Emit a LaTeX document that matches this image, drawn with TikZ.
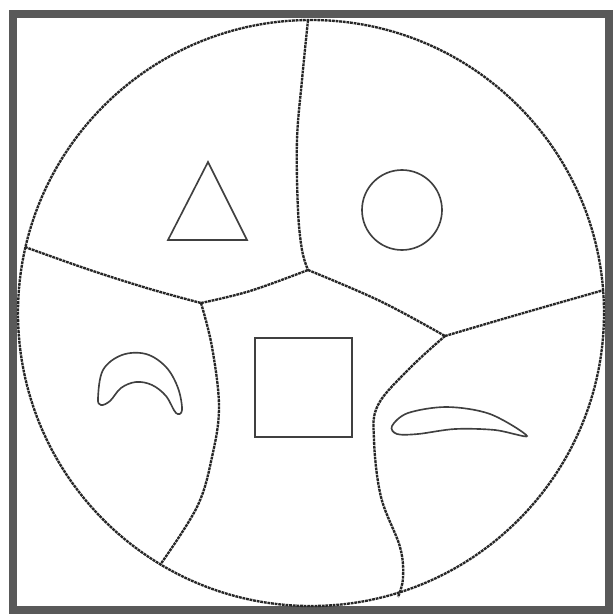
\documentclass[tikz,border=0pt]{standalone}
\usepackage{tikz}
\usetikzlibrary{calc}

\begin{document}
\begin{tikzpicture}[
        x=0.03cm, y=-0.03cm,
        border/.style={line width=6pt, gray!70!black},
        cell/.style={line width=2pt, black!85, dash pattern=on 2.4pt off 0.7pt},
        figline/.style={line width=1.4pt, black!75}
    ]

        % === DEFINITIONS & COORDINATES ===
        \def\cx{311}   % centre of the disc
        \def\cy{313}
        \def\rad{293}  % radius of the disc

        \useasboundingbox (0,0) rectangle (613,616);
        \fill[white] (0,0) rectangle (613,616);

        % Junctions of the cells
        \coordinate (JTop) at (308,270);
        \coordinate (JLeft) at (201,303);
        \coordinate (JRight) at (445,336);

        % Ends on the rim
        \coordinate (RimTop) at (308,20);
        \coordinate (RimLeft) at (25,247);
        \coordinate (RimRight) at (604,290);
        \coordinate (RimBotL) at (160,565);
        \coordinate (RimBotR) at (398,597);

        % === 1. FRAME & DISC ===
        \draw[border] (13,14) rectangle (609,610);
        \draw[cell] (\cx,\cy) circle (\rad);

        % === 2. CELL BOUNDARIES ===
        \draw[cell] plot[smooth, tension=0.6] coordinates
            {(RimTop) (302,80) (297,140) (298,210) (302,250) (JTop)};
        \draw[cell] plot[smooth, tension=0.6] coordinates
            {(RimLeft) (90,270) (150,289) (JLeft)};
        \draw[cell] plot[smooth, tension=0.6] coordinates
            {(JLeft) (250,291) (JTop)};
        \draw[cell] plot[smooth, tension=0.6] coordinates
            {(JTop) (380,301) (JRight)};
        \draw[cell] plot[smooth, tension=0.6] coordinates
            {(JRight) (520,314) (RimRight)};
        \draw[cell] plot[smooth, tension=0.6] coordinates
            {(JLeft) (212,347) (219,407) (212,457) (197,507) (RimBotL)};
        \draw[cell] plot[smooth, tension=0.6] coordinates
            {(JRight) (410,368) (378,405) (374,440) (381,497) (400,547) (403,578) (RimBotR)};

        % === 3. OBJECTS IN THE CELLS ===
        \draw[figline] (208,162) -- (168,240) -- (247,240) -- cycle;
        \draw[figline] (402,210) circle (40);
        \draw[figline] (255,338) rectangle (352,437);

        % crescent
        \draw[figline] plot[smooth cycle, tension=0.6] coordinates
            {(98,398) (103,370) (122,355) (146,354) (166,367) (178,388) (182,410)
             (176,413) (166,396) (152,385) (136,382) (121,388) (110,401) (101,405)};

        % blade
        \draw[figline] plot[smooth cycle, tension=0.55] coordinates
            {(392,426) (408,413) (447,407) (490,414) (527,436)
             (495,430) (455,429) (418,434) (397,434)};

    \end{tikzpicture}
\end{document}
